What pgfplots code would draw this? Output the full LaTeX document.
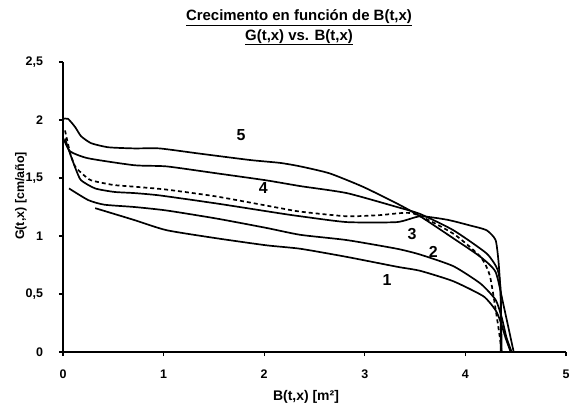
\documentclass[border=0pt]{standalone}
\usepackage{pgfplots}
\pgfplotsset{compat=1.18}
\usepackage{fontspec}
\setmainfont{Liberation Sans}
\begin{document}
\begin{tikzpicture}[x=1bp,y=1bp]
\path[use as bounding box] (-63,-56) rectangle (513,352);
\begin{axis}[
  at={(0,0)}, anchor=origin,
  scale only axis, width=503bp, height=290bp,
  xmin=0, xmax=5, ymin=0, ymax=2.5,
  axis lines=left,
  axis line style={-, line width=1.5pt},
  tick align=outside,
  major tick length=4bp,
  tick style={line width=1.2pt, black},
  xtick={0,1,2,3,4,5},
  ytick={0,0.5,1,1.5,2,2.5},
  yticklabels={0,{0,5},1,{1,5},2,{2,5}},
  xticklabels={0,1,2,3,4,5},
  ticklabel style={font=\bfseries\fontsize{12.5}{14}\selectfont},
  xticklabel style={yshift=-10.5bp},
  yticklabel style={xshift=-12.5bp},
  clip=false,
]
\pgfplotsset{mycurve/.style={black, solid, line width=1.7pt, smooth, tension=0.35, mark=none}}
% curve 5
\addplot[mycurve] coordinates {(0,2.01)(0.05,2.01)(0.12,1.94)(0.18,1.86)(0.28,1.80)(0.45,1.765)(0.71,1.755)(0.96,1.755)(1.36,1.71)(1.86,1.655)(2.16,1.63)(2.36,1.60)(2.65,1.54)(2.98,1.425)(3.32,1.28)(3.55,1.17)(3.88,0.98)(4.15,0.82)(4.30,0.69)(4.38,0.40)(4.48,0)};
% curve 4
\addplot[mycurve] coordinates {(0.01,1.83)(0.07,1.73)(0.25,1.67)(0.71,1.61)(1.03,1.60)(1.53,1.54)(2.02,1.48)(2.36,1.43)(2.82,1.37)(3.32,1.25)(3.55,1.19)(3.88,1.05)(4.21,0.85)(4.32,0.71)(4.35,0.53)(4.36,0)};
% curve 3
\addplot[mycurve] coordinates {(0.02,1.84)(0.07,1.71)(0.13,1.57)(0.18,1.48)(0.32,1.41)(0.51,1.38)(0.71,1.37)(0.96,1.35)(1.53,1.28)(2.16,1.195)(2.36,1.17)(2.82,1.12)(3.32,1.12)(3.55,1.17)(3.82,1.14)(4.05,1.09)(4.21,1.05)(4.30,0.965)(4.33,0.77)(4.35,0.48)(4.35,0)};
% dashed
\addplot[mycurve, dash pattern=on 4pt off 3pt] coordinates {(0.02,1.91)(0.07,1.72)(0.12,1.60)(0.2,1.53)(0.28,1.48)(0.5,1.44)(0.71,1.425)(1.03,1.40)(1.53,1.34)(2.16,1.24)(2.36,1.21)(2.82,1.17)(3.15,1.18)(3.48,1.195)(3.88,1.02)(4.15,0.82)(4.245,0.65)(4.33,0.2)(4.36,0)};
% curve 2
\addplot[mycurve] coordinates {(0.06,1.41)(0.25,1.31)(0.41,1.27)(0.71,1.25)(1.03,1.22)(1.53,1.15)(2.02,1.07)(2.36,1.01)(2.82,0.965)(3.32,0.89)(3.55,0.84)(3.88,0.74)(4.15,0.59)(4.30,0.45)(4.36,0.30)(4.41,0.12)(4.46,0)};
% curve 1
\addplot[mycurve] coordinates {(0.32,1.24)(0.70,1.14)(1.03,1.05)(1.53,0.98)(2.02,0.92)(2.36,0.89)(2.82,0.82)(3.32,0.735)(3.55,0.70)(3.88,0.61)(4.18,0.48)(4.30,0.36)(4.35,0.26)(4.40,0.12)(4.45,0)};
\node[font=\bfseries\fontsize{16}{17}\selectfont] at (axis cs:1.77,1.87) {5};
\node[font=\bfseries\fontsize{16}{17}\selectfont] at (axis cs:1.99,1.41) {4};
\node[font=\bfseries\fontsize{16}{17}\selectfont] at (axis cs:3.47,1.02) {3};
\node[font=\bfseries\fontsize{16}{17}\selectfont] at (axis cs:3.68,0.86) {2};
\node[font=\bfseries\fontsize{16}{17}\selectfont] at (axis cs:3.22,0.62) {1};
\end{axis}
\node[font=\bfseries\fontsize{15}{16}\selectfont, anchor=base] at (236,331.3) {\underline{Crecimento en función de B(t,x)}};
\node[font=\bfseries\fontsize{15}{16}\selectfont, anchor=base] at (236,312) {\underline{G(t,x) vs. B(t,x)}};
\node[font=\bfseries\fontsize{12.5}{14}\selectfont, rotate=90] at (-42,156) {G(t,x) [cm/año]};
\node[font=\bfseries\fontsize{14}{15}\selectfont, anchor=base] at (243,-48.7) {B(t,x) [m²]};
\end{tikzpicture}
\end{document}
